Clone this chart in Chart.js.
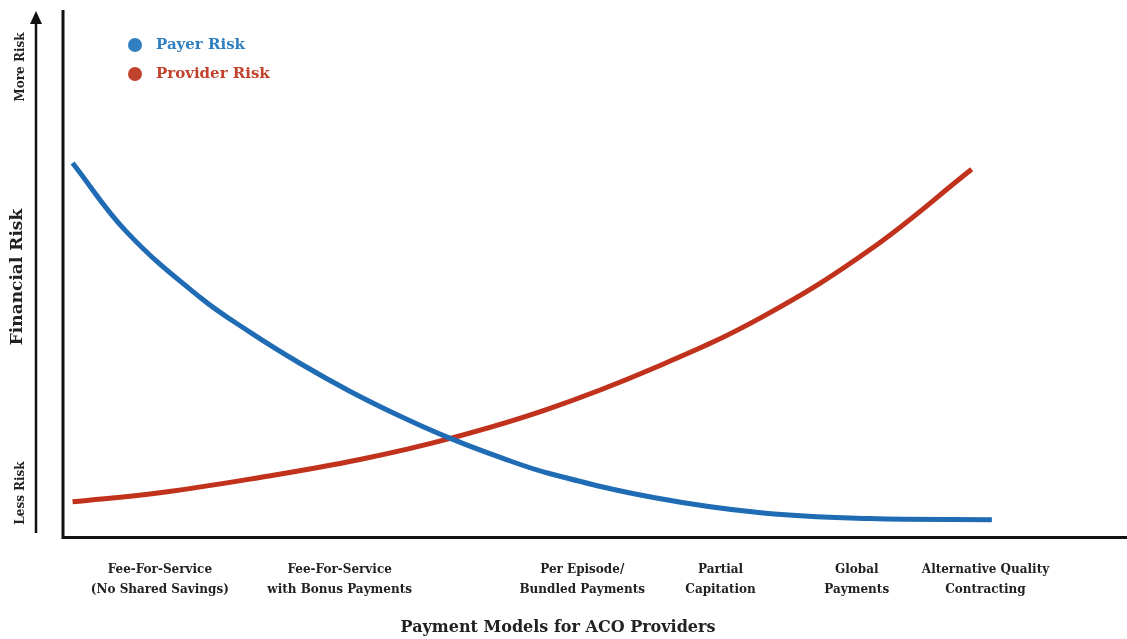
<!DOCTYPE html>
<html>
<head>
<meta charset="utf-8">
<script src="https://cdn.jsdelivr.net/npm/chart.js@4.4.0/dist/chart.umd.min.js"></script>
<style>
  html, body { margin: 0; padding: 0; background: #fff; }
  #wrap { width: 1127px; height: 639px; position: relative; }
</style>
</head>
<body>
<div id="wrap"><canvas id="riskChart"></canvas></div>
<script>
// payment model categories and where they sit along the x axis
var categories = [
    ['Fee-For-Service', '(No Shared Savings)'],
    ['Fee-For-Service', 'with Bonus Payments'],
    ['Per Episode/', 'Bundled Payments'],
    ['Partial', 'Capitation'],
    ['Global', 'Payments'],
    ['Alternative Quality', 'Contracting']
];
var categoryPos = [0.91, 2.6, 4.88, 6.18, 7.46, 8.67];

// curve samples (x, risk)
var payerX = [0.09, 0.60, 1.29, 1.76, 2.23, 2.70, 3.17, 3.64, 4.11, 4.58, 5.55, 6.56, 7.58, 8.73];
var payerY = [7.10, 5.79, 4.55, 3.89, 3.30, 2.77, 2.30, 1.88, 1.52, 1.21, 0.76, 0.47, 0.36, 0.34];
var providerX = [0.09, 0.91, 1.85, 2.79, 3.64, 4.55, 5.55, 6.56, 7.58, 8.54];
var providerY = [0.68, 0.85, 1.14, 1.48, 1.88, 2.43, 3.21, 4.17, 5.45, 6.98];

var seriesNames = ['Payer Risk', 'Provider Risk'];
var lineColors = ['#1f6cb5', '#c1321c'];
var dotColors = ['#2f7fc1', '#c1432e'];

var serif = '"DejaVu Serif", "Liberation Serif", serif';

function toPoints(xs, ys){
    return xs.map(function(x, i){ return {x: x, y: ys[i]}; });
}

// axis arrow, rotated y labels, legend and x title
var decorations = {
    id: 'decorations',
    afterDraw: function(chart){
        var ctx = chart.ctx;
        var area = chart.chartArea;
        ctx.save();

        // y axis line
        ctx.strokeStyle = '#111';
        ctx.lineWidth = 3;
        ctx.beginPath();
        ctx.moveTo(area.left, area.top);
        ctx.lineTo(area.left, area.bottom + 1.5);
        ctx.stroke();

        // risk arrow
        ctx.lineWidth = 2.5;
        ctx.beginPath();
        ctx.moveTo(36, 533);
        ctx.lineTo(36, 22);
        ctx.stroke();
        ctx.fillStyle = '#111';
        ctx.beginPath();
        ctx.moveTo(36, 11);
        ctx.lineTo(30, 24);
        ctx.lineTo(42, 24);
        ctx.closePath();
        ctx.fill();

        // rotated texts
        ctx.fillStyle = '#222';
        ctx.textAlign = 'center';
        ctx.textBaseline = 'middle';
        [['More Risk', 21, 67, 12], ['Less Risk', 21, 493, 12], ['Financial Risk', 18, 277, 17]].forEach(function(t){
            ctx.save();
            ctx.translate(t[1], t[2]);
            ctx.rotate(-Math.PI / 2);
            ctx.font = 'bold ' + t[3] + 'px ' + serif;
            ctx.fillText(t[0], 0, 0);
            ctx.restore();
        });

        // legend
        ctx.textAlign = 'left';
        ctx.font = 'bold 15px ' + serif;
        seriesNames.forEach(function(name, i){
            var y = 45 + i * 29;
            ctx.fillStyle = dotColors[i];
            ctx.beginPath();
            ctx.arc(135, y, 7, 0, Math.PI * 2);
            ctx.fill();
            ctx.fillText(name, 156, y);
        });

        // x title
        ctx.fillStyle = '#222';
        ctx.textAlign = 'center';
        ctx.font = 'bold 16px ' + serif;
        ctx.fillText('Payment Models for ACO Providers', 558, 628);
        ctx.restore();
    }
};

var chart = new Chart(document.getElementById('riskChart'), {
    type: 'line',
    data: {
        datasets: [{
            label: seriesNames[0],
            data: toPoints(payerX, payerY),
            borderColor: lineColors[0],
            borderWidth: 5,
            pointRadius: 0,
            tension: 0.4,
            borderCapStyle: 'butt'
        }, {
            label: seriesNames[1],
            data: toPoints(providerX, providerY),
            borderColor: lineColors[1],
            borderWidth: 5,
            pointRadius: 0,
            tension: 0.4,
            borderCapStyle: 'butt'
        }]
    },
    options: {
        responsive: true,
        maintainAspectRatio: false,
        animation: false,
        layout: { padding: { left: 63, top: 10, right: 0, bottom: 17 } },
        plugins: {
            legend: { display: false },
            tooltip: { enabled: false }
        },
        scales: {
            x: {
                type: 'linear',
                min: 0,
                max: 10,
                grid: { display: false, drawTicks: false },
                border: { display: true, color: '#111', width: 3 },
                afterBuildTicks: function(scale){
                    scale.ticks = categoryPos.map(function(v){ return {value: v}; });
                },
                ticks: {
                    autoSkip: false,
                    maxRotation: 0,
                    padding: 23,
                    color: '#222',
                    font: { family: serif, size: 12, weight: 'bold', lineHeight: 1.6 },
                    callback: function(value){
                        var i = categoryPos.indexOf(value);
                        return i >= 0 ? categories[i] : '';
                    }
                }
            },
            y: {
                display: false,
                min: 0,
                max: 10
            }
        }
    },
    plugins: [decorations]
});
</script>
</body>
</html>
